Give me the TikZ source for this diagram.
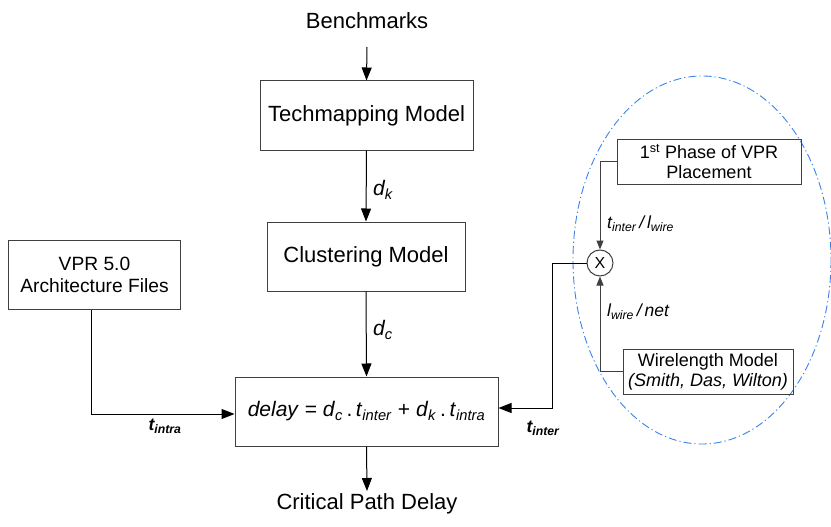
\documentclass[tikz,border=0pt]{standalone}
\usepackage{fontspec}
\setmainfont{Liberation Sans}
\usetikzlibrary{arrows.meta}
\definecolor{ellblue}{HTML}{3C82EB}
\definecolor{lgray}{HTML}{404040}
\tikzset{
  box/.style={draw=lgray, line width=1pt, minimum width=#1, inner sep=0pt, align=center},
  bigtxt/.style={font=\fontsize{22}{26}\selectfont},
  midtxt/.style={font=\fontsize{19.2}{22}\selectfont},
  smtxt/.style={font=\fontsize{18}{20}\selectfont},
  lbl/.style={font=\fontsize{21}{22}\selectfont\itshape, inner sep=0pt},
  slbl/.style={font=\fontsize{17.5}{18}\selectfont\itshape, inner sep=0pt},
  blbl/.style={font=\fontsize{17.5}{19}\selectfont\bfseries\itshape, inner sep=0pt},
  arr/.style={line width=1pt, draw=black, -{Triangle[length=13pt,width=10pt]}},
  arrs/.style={line width=1pt, draw=lgray, -{Triangle[length=9pt,width=7pt]}},
}
\begin{document}
\begin{tikzpicture}[x=1pt,y=-1pt]
\useasboundingbox (0,0) rectangle (831,527);

% ellipse
\draw[ellblue, line width=0.9pt, dash pattern=on 8pt off 3pt on 1.2pt off 3pt] (702,260) ellipse [x radius=129, y radius=184];

\node[bigtxt] (bench) at (367,21) {Benchmarks};
\node[box=213pt, minimum height=69pt, bigtxt] (tech) at (366.5,115.5) {Techmapping Model};
\node[box=198pt, minimum height=69pt, bigtxt] (clus) at (366,256.5) {Clustering Model};
\node[box=263pt, minimum height=69pt, font=\fontsize{21}{25}\selectfont] (delay) at (366.5,411.5)
  {\textit{delay} = \textit{d}\textsubscript{\textit{c}}\,.\,\textit{t}\textsubscript{\textit{inter}} + \textit{d}\textsubscript{\textit{k}}\,.\,\textit{t}\textsubscript{\textit{intra}}};
\node[box=172pt, minimum height=69pt, midtxt] (vpr) at (94.5,274.5) {VPR 5.0\\Architecture Files};
\node[bigtxt] (crit) at (367,504) {Critical Path Delay};

\node[box=184pt, minimum height=45pt, smtxt] (phase) at (709,161.5) {1\textsuperscript{st} Phase of VPR\\Placement};
\node[box=170pt, minimum height=45pt, smtxt] (wire) at (708,371.5) {Wirelength Model\\\textit{(Smith, Das, Wilton)}};
\node[draw=lgray, line width=1pt, circle, minimum size=26pt, inner sep=0pt, font=\fontsize{16}{16}\selectfont] (circ) at (600,263) {X};

\coordinate (bend) at (552,263);
\coordinate (bstart) at (367,47);
\coordinate (cend) at (367,491);

% connectors
\draw[arr] (bstart) -- (tech.north);
\draw[arr] (tech.south) -- (clus.north);
\draw[arr] (clus.south) -- (delay.north);
\draw[arr] (delay.south) -- (cend);
\draw[arr] ([xshift=-3.5pt]vpr.south) |- ([yshift=-2.5pt]delay.west);
\draw[arr] (circ.west) -- (bend) |- ([yshift=3.5pt]delay.east);
\draw[arrs] (phase.west) -| (circ.north);
\draw[arrs] (wire.west) -| (circ.south);

% labels
\node[lbl, anchor=west] (dk) at (373,190) {d\textsubscript{k}};
\node[lbl, anchor=west] (dc) at (373,330) {d\textsubscript{c}};
\node[blbl] (tintra) at (165,426) {t\textsubscript{intra}};
\node[blbl] (tinter) at (543,428) {t\textsubscript{inter}};
\node[slbl, anchor=west] (l1) at (607,224) {t\textsubscript{inter}\,/\,l\textsubscript{wire}};
\node[slbl, anchor=west] (l2) at (607,312) {l\textsubscript{wire}\,/\,net};
\end{tikzpicture}
\end{document}
